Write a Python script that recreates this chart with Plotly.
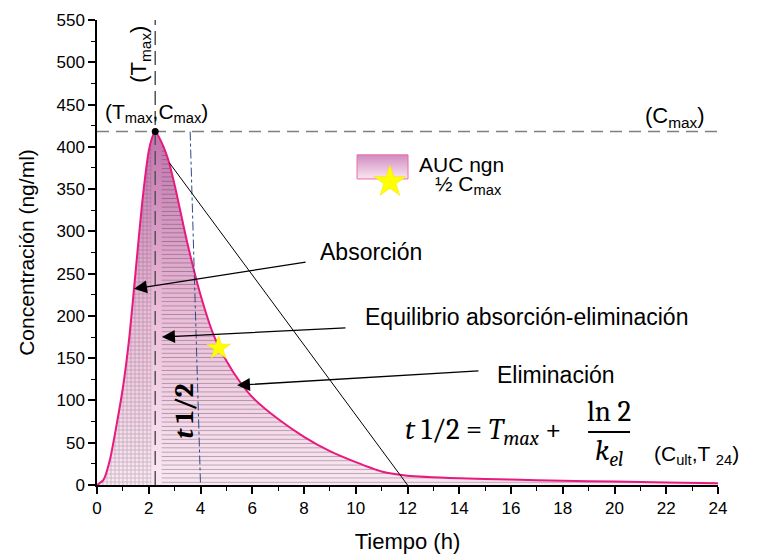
import plotly.graph_objects as go

# ---------------- data ----------------
tiempo = [0, 0.25, 0.5, 0.75, 1.0, 1.25, 1.5, 1.75, 2.0, 2.1, 2.25, 2.5, 2.75, 3.0, 3.5,
          4.0, 4.5, 5.0, 5.5, 6.0, 7.0, 8.0, 9.0, 10.0, 11.0, 12.0, 14.0, 16.0, 18.0,
          20.0, 22.0, 24.0]
concentracion = [0, 6, 30, 70, 115, 175, 255, 335, 395, 408, 418, 405, 385, 355, 285,
                 225, 178, 147, 123, 104, 78, 57, 40, 27, 16, 11, 8, 6.5, 5,
                 4, 3, 2]

t_max = 2.25
c_max = 418
t_abs_end = 2.1        # end of the cross-hatched absorption area
t_elim_start = 2.5     # start of the line-hatched elimination area
half_point = (4.7, 162)              # yellow star on the curve
tangent_line = ([2.8, 12.0], [381, 0])   # straight elimination line
blue_line = ([3.6, 4.0], [418, 0])       # dash-dot t1/2 guide

x_ticks = list(range(0, 25, 2))
y_ticks = list(range(0, 551, 50))

arrows = [  # (label, head_t, head_c, tail_t, tail_c, label_t, label_c)
    ("Absorción", 1.43, 232, 8.12, 264, 8.54, 276),
    ("Equilibrio absorción-eliminación", 2.51, 175, 9.66, 186, 10.28, 199),
    ("Eliminación", 5.41, 118, 14.8, 135, 15.4, 130),
]

FONT = "Arial, Liberation Sans, sans-serif"
SERIF = "Cambria, Liberation Serif, DejaVu Serif, serif"
PINK = "#e8197f"

fig = go.Figure()

# gradient fill under the whole curve
fig.add_trace(go.Scatter(
    x=tiempo, y=concentracion, mode="lines", fill="tozeroy",
    line=dict(color="rgba(0,0,0,0)", width=0, shape="spline", smoothing=0.6),
    fillgradient=dict(type="vertical", start=0, stop=c_max,
                      colorscale=[[0, "#fbe8f3"], [0.5, "#ecbcd9"], [1, "#c172ad"]]),
    hoverinfo="skip", showlegend=False))

# absorption cross-hatch
abs_t = [t for t in tiempo if t <= t_abs_end]
abs_c = [c for t, c in zip(tiempo, concentracion) if t <= t_abs_end]
fig.add_trace(go.Scatter(
    x=abs_t, y=abs_c, mode="lines", fill="tozeroy",
    line=dict(color="rgba(0,0,0,0)", width=0, shape="spline", smoothing=0.6),
    fillcolor="rgba(0,0,0,0)",
    fillpattern=dict(shape="+", size=4, solidity=0.3, fgcolor="rgba(70,60,70,0.75)",
                     bgcolor="rgba(0,0,0,0)", fillmode="overlay"),
    hoverinfo="skip", showlegend=False))

# elimination horizontal hatch
el_t = [t for t in tiempo if t >= t_elim_start]
el_c = [c for t, c in zip(tiempo, concentracion) if t >= t_elim_start]
fig.add_trace(go.Scatter(
    x=el_t, y=el_c, mode="lines", fill="tozeroy",
    line=dict(color="rgba(0,0,0,0)", width=0, shape="spline", smoothing=0.6),
    fillcolor="rgba(0,0,0,0)",
    fillpattern=dict(shape="-", size=4.3, solidity=0.22, fgcolor="rgba(40,40,40,0.7)",
                     bgcolor="rgba(0,0,0,0)", fillmode="overlay"),
    hoverinfo="skip", showlegend=False))

# curve line
fig.add_trace(go.Scatter(
    x=tiempo, y=concentracion, mode="lines",
    line=dict(color=PINK, width=2, shape="spline", smoothing=0.6),
    hoverinfo="skip", showlegend=False))

# guide lines
fig.add_trace(go.Scatter(x=[0, 24], y=[c_max, c_max], mode="lines",
                         line=dict(color="#7f7f7f", width=1.5, dash="12px,7px"),
                         hoverinfo="skip", showlegend=False))
fig.add_trace(go.Scatter(x=[t_max, t_max], y=[0, 550], mode="lines",
                         line=dict(color="#555555", width=1.5, dash="14px,6px"),
                         hoverinfo="skip", showlegend=False))
fig.add_trace(go.Scatter(x=blue_line[0], y=blue_line[1], mode="lines",
                         line=dict(color="#2e4a86", width=1, dash="dashdot"),
                         hoverinfo="skip", showlegend=False))
fig.add_trace(go.Scatter(x=tangent_line[0], y=tangent_line[1], mode="lines",
                         line=dict(color="black", width=1),
                         hoverinfo="skip", showlegend=False))

# peak point and half-Cmax star
fig.add_trace(go.Scatter(x=[t_max], y=[c_max], mode="markers",
                         marker=dict(color="black", size=7), cliponaxis=False,
                         hoverinfo="skip", showlegend=False))
fig.add_trace(go.Scatter(x=[half_point[0]], y=[half_point[1]], mode="markers",
                         marker=dict(symbol="star", color="#ffff00", size=18,
                                     line=dict(color="#f0e000", width=0.5)),
                         hoverinfo="skip", showlegend=False))

# ---- manual legend ----
leg_x0, leg_x1, leg_y0, leg_y1 = 10.05, 12.02, 362, 390.5
fig.add_trace(go.Scatter(
    x=[leg_x0, leg_x1, leg_x1, leg_x0, leg_x0], y=[leg_y0, leg_y0, leg_y1, leg_y1, leg_y0],
    mode="lines", fill="toself", line=dict(color="#ee6aa7", width=1),
    fillgradient=dict(type="vertical", start=leg_y0, stop=leg_y1,
                      colorscale=[[0, "#fbe6f1"], [1, "#d08cc0"]]),
    hoverinfo="skip", showlegend=False))
fig.add_trace(go.Scatter(x=[11.32], y=[358.6], mode="markers",
                         marker=dict(symbol="star", color="#ffff00", size=24,
                                     line=dict(color="#f0e000", width=0.5)),
                         hoverinfo="skip", showlegend=False))

ann = []
ann.append(dict(x=12.37, y=379, text="AUC ngn", showarrow=False, xanchor="left",
                yanchor="middle", font=dict(family=FONT, size=21, color="black")))
ann.append(dict(x=13.0, y=355, text="½ C<sub>max</sub>", showarrow=False, xanchor="left",
                yanchor="middle", font=dict(family=FONT, size=21, color="black")))

for label, ht, hc, tt, tc, lt, lc in arrows:
    ann.append(dict(x=ht, y=hc, ax=tt, ay=tc, axref="x", ayref="y", xref="x", yref="y",
                    text="", showarrow=True, arrowhead=2, arrowsize=2, arrowwidth=1.3,
                    arrowcolor="black"))
    ann.append(dict(x=lt, y=lc, text=label, showarrow=False, xanchor="left",
                    yanchor="middle", font=dict(family=FONT, size=23, color="black")))

ann.append(dict(x=0.23, y=440, text="(T<sub>max</sub>,C<sub>max</sub>)", showarrow=False,
                xanchor="left", yanchor="middle", font=dict(family=FONT, size=21, color="black")))
ann.append(dict(x=21.1, y=435.5, text="(C<sub>max</sub>)", showarrow=False,
                xanchor="left", yanchor="middle", font=dict(family=FONT, size=22, color="black")))
ann.append(dict(x=1.66, y=510, text="(T<sub>max</sub>)", showarrow=False, textangle=-90,
                xanchor="center", yanchor="middle", font=dict(family=FONT, size=22, color="black")))
ann.append(dict(x=3.4, y=88, text="<b><i>t</i> 1/2</b>", showarrow=False, textangle=-90,
                xanchor="center", yanchor="middle", font=dict(family=SERIF, size=27, color="black")))

# formula
ann.append(dict(x=11.83, y=62.7, text="<i>t</i> 1/2 = <i>T<sub>max</sub></i> +", showarrow=False,
                xanchor="left", yanchor="middle", font=dict(family=SERIF, size=29, color="black")))
ann.append(dict(x=19.79, y=87, text="ln 2", showarrow=False, xanchor="center",
                yanchor="middle", font=dict(family=SERIF, size=29, color="black")))
ann.append(dict(x=19.79, y=38, text="<i>k<sub>el</sub></i>", showarrow=False, xanchor="center",
                yanchor="middle", font=dict(family=SERIF, size=29, color="black")))
ann.append(dict(x=21.45, y=35.5, text="(C<sub>ult</sub>,T <sub>24</sub>)", showarrow=False,
                xanchor="left", yanchor="middle", font=dict(family=FONT, size=21, color="black")))

fig.update_layout(
    width=769, height=557,
    margin=dict(l=97, r=51, t=20, b=72, autoexpand=False),
    paper_bgcolor="white", plot_bgcolor="white",
    annotations=ann,
    shapes=[dict(type="line", xref="x", yref="y", x0=18.98, x1=20.6, y0=62.7, y1=62.7,
                 line=dict(color="black", width=2))],
    font=dict(family=FONT, color="black"),
)
fig.update_xaxes(range=[0, 24], tickvals=x_ticks, showline=True, linecolor="black",
                 linewidth=1.5, ticks="outside", ticklen=7, tickwidth=1.5, tickcolor="black",
                 minor=dict(dtick=1, ticks="outside", ticklen=4, tickwidth=1.2, tickcolor="black"),
                 showgrid=False, zeroline=False, tickfont=dict(size=17, family=FONT),
                 automargin=False,
                 title=dict(text="Tiempo (h)", font=dict(size=22, family=FONT), standoff=16))
fig.update_yaxes(range=[0, 550], tickvals=y_ticks, showline=True, linecolor="black",
                 linewidth=1.5, ticks="outside", ticklen=7, tickwidth=1.5, tickcolor="black",
                 minor=dict(dtick=25, ticks="outside", ticklen=4, tickwidth=1.2, tickcolor="black"),
                 showgrid=False, zeroline=False, tickfont=dict(size=17, family=FONT),
                 automargin=False,
                 title=dict(text="Concentración (ng/ml)", font=dict(size=21, family=FONT), standoff=16))

fig.write_html("out.html")
